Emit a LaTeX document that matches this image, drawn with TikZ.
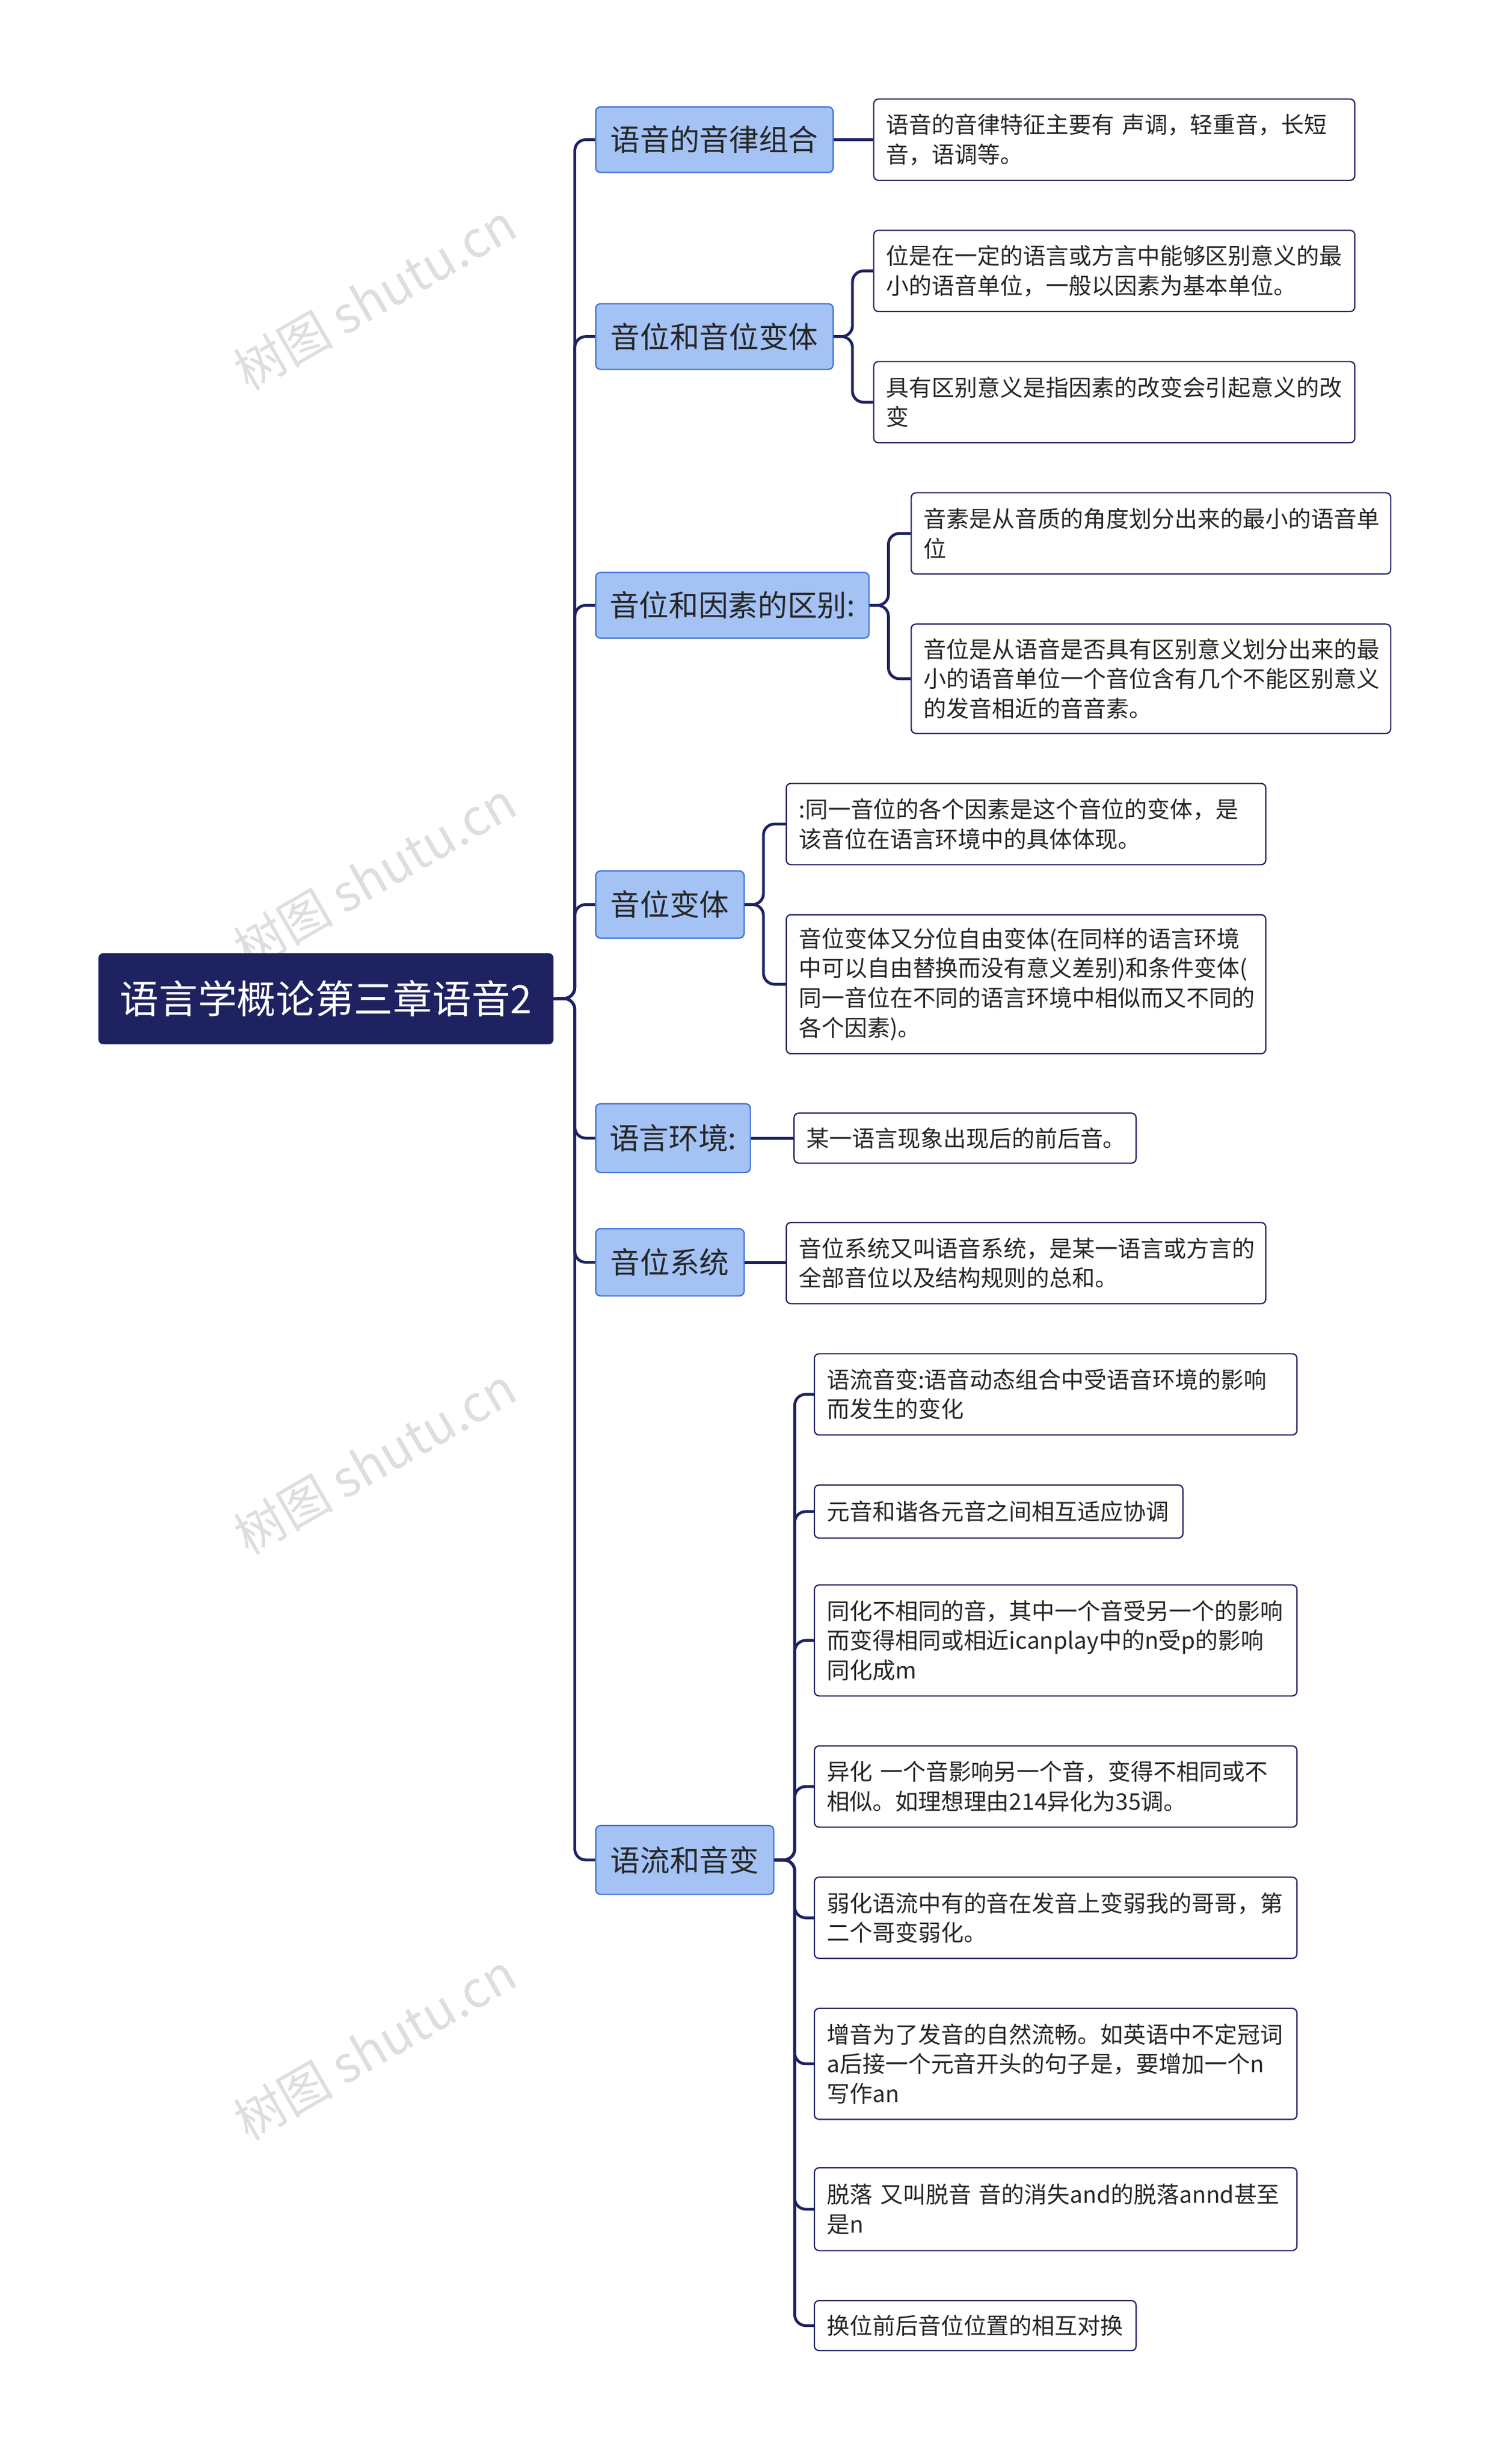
\documentclass[tikz,border=0pt]{standalone}
\usepackage{fontspec}
\setmainfont{Noto Sans CJK SC}
\begin{document}
\begin{tikzpicture}[x=1pt,y=-1pt,
 conn/.style={draw=navy,line width=1.8pt,rounded corners=7pt},
 rootbox/.style={fill=navy,draw=navy,rounded corners=3pt,text=white,font=\fontsize{25}{29}\selectfont,anchor=north west,inner sep=0pt},
 lone/.style={fill=lblue,draw=bblue,line width=0.8pt,rounded corners=3pt,text=black!85,font=\fontsize{19}{22}\selectfont,anchor=north west,inner sep=0pt},
 leaf/.style={fill=white,draw=navy,line width=0.8pt,rounded corners=3pt,text=black!85,font=\fontsize{14.6}{19}\selectfont,anchor=north west,align=left,inner xsep=8pt,inner ysep=0pt},
 wm/.style={text=black!13,font=\fontsize{32}{36}\selectfont,rotate=30}]
\definecolor{navy}{HTML}{1E2260}
\definecolor{lblue}{HTML}{A4C2F4}
\definecolor{bblue}{HTML}{3C6FD6}
\useasboundingbox (0,0) rectangle (960,1577);
\node[wm] (w1) at (240,190) {树图 shutu.cn};
\node[wm] (w2) at (240,560) {树图 shutu.cn};
\node[wm] (w3) at (240,935) {树图 shutu.cn};
\node[wm] (w4) at (240,1310) {树图 shutu.cn};

\node[rootbox,minimum width=291,minimum height=58] (root) at (63,610) {语言学概论第三章语音2};

\node[lone,minimum width=152,minimum height=42] (a) at (381,68) {语音的音律组合};
\node[lone,minimum width=152,minimum height=42] (b) at (381,194) {音位和音位变体};
\node[lone,minimum width=175,minimum height=42] (c) at (381,366) {音位和因素的区别:};
\node[lone,minimum width=95,minimum height=43] (d) at (381,557) {音位变体};
\node[lone,minimum width=99,minimum height=44] (e) at (381,706) {语言环境:};
\node[lone,minimum width=95,minimum height=43] (f) at (381,786) {音位系统};
\node[lone,minimum width=114,minimum height=44] (g) at (381,1168) {语流和音变};

\node[leaf,text width=292,minimum height=52] (a1) at (559,63) {语音的音律特征主要有 声调，轻重音，长短\\音，语调等。};
\node[leaf,text width=292,minimum height=52] (b1) at (559,147) {位是在一定的语言或方言中能够区别意义的最\\小的语音单位，一般以因素为基本单位。};
\node[leaf,text width=292,minimum height=52] (b2) at (559,231) {具有区别意义是指因素的改变会引起意义的改\\变};
\node[leaf,text width=291,minimum height=52] (c1) at (583,315) {音素是从音质的角度划分出来的最小的语音单\\位};
\node[leaf,text width=291,minimum height=70] (c2) at (583,399) {音位是从语音是否具有区别意义划分出来的最\\小的语音单位一个音位含有几个不能区别意义\\的发音相近的音音素。};
\node[leaf,text width=291,minimum height=52] (d1) at (503,501) {:同一音位的各个因素是这个音位的变体，是\\该音位在语言环境中的具体体现。};
\node[leaf,text width=291,minimum height=89] (d2) at (503,585) {音位变体又分位自由变体(在同样的语言环境\\中可以自由替换而没有意义差别)和条件变体(\\同一音位在不同的语言环境中相似而又不同的\\各个因素)。};
\node[leaf,text width=203,minimum height=32] (e1) at (508,712) {某一语言现象出现后的前后音。};
\node[leaf,text width=291,minimum height=52] (f1) at (503,782) {音位系统又叫语音系统，是某一语言或方言的\\全部音位以及结构规则的总和。};
\node[leaf,text width=293,minimum height=52] (g1) at (521,866) {语流音变:语音动态组合中受语音环境的影响\\而发生的变化};
\node[leaf,text width=220,minimum height=34] (g2) at (521,950) {元音和谐各元音之间相互适应协调};
\node[leaf,text width=293,minimum height=71] (g3) at (521,1014) {同化不相同的音，其中一个音受另一个的影响\\而变得相同或相近icanplay中的n受p的影响\\同化成m};
\node[leaf,text width=293,minimum height=52] (g4) at (521,1117) {异化 一个音影响另一个音，变得不相同或不\\相似。如理想理由214异化为35调。};
\node[leaf,text width=293,minimum height=52] (g5) at (521,1201) {弱化语流中有的音在发音上变弱我的哥哥，第\\二个哥变弱化。};
\node[leaf,text width=293,minimum height=71] (g6) at (521,1285) {增音为了发音的自然流畅。如英语中不定冠词\\a后接一个元音开头的句子是，要增加一个n\\写作an};
\node[leaf,text width=293,minimum height=53] (g7) at (521,1387) {脱落 又叫脱音 音的消失and的脱落annd甚至\\是n};
\node[leaf,text width=190,minimum height=32] (g8) at (521,1472) {换位前后音位位置的相互对换};

\foreach \n in {a,b,c,d,e,f,g}{\draw[conn] (root.east) -- (368,639) |- (\n.west);}
\draw[conn] (a.east) -- (a1.west|-a.east);
\draw[conn] (e.east) -- (e1.west|-e.east);
\draw[conn] (f.east) -- (f1.west|-f.east);
\foreach \n in {b1,b2}{\draw[conn] (b.east) -- ++(12,0) |- (\n.west);}
\foreach \n in {c1,c2}{\draw[conn] (c.east) -- ++(12,0) |- (\n.west);}
\foreach \n in {d1,d2}{\draw[conn] (d.east) -- ++(12,0) |- (\n.west);}
\foreach \n in {g1,g2,g3,g4,g5,g6,g7,g8}{\draw[conn] (g.east) -- ++(13,0) |- (\n.west);}
\end{tikzpicture}
\end{document}
